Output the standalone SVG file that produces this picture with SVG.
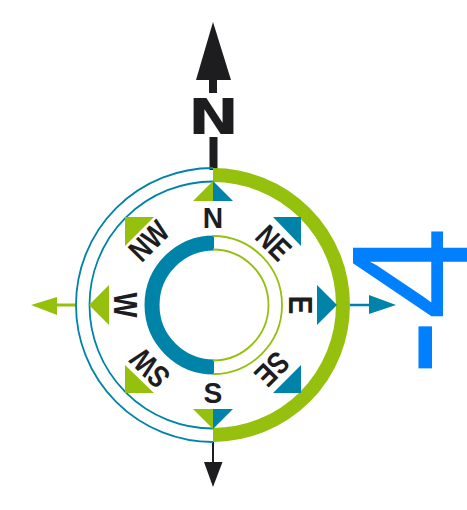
<svg xmlns="http://www.w3.org/2000/svg" width="467" height="510" viewBox="0 0 467 510">
<style>
.k{fill:#1d1d1f}.t{fill:#0083a8}.g{fill:#95c00d}
.lbl{font-family:"Liberation Sans",Arial,sans-serif;font-weight:700;font-size:30px;fill:#1d1d1f;text-anchor:middle}
.d{font-size:31px}
.a{fill:none}
</style>
<rect width="467" height="510" fill="#fff"/>
<g id="connectors">
<rect class="k" x="209" y="78" width="8" height="15"/>
<rect class="k" x="209.500" y="137" width="8" height="33"/>
<path d="M213 442V463" stroke="#1d1d1f" stroke-width="2"/>
<path d="M57 305H76" stroke="#95c00d" stroke-width="3"/>
<path d="M350 305H370" stroke="#0083a8" stroke-width="2.500"/>
<path class="k" d="M213 22L231 80H196Z"/>
<path class="k" d="M204 462H222.500L213 487Z"/>
<path class="g" d="M31 305L57 297V315Z"/>
<path class="t" d="M396 305L369 295V314Z"/>
</g>
<g id="rings" class="a">
<path d="M213 168A137 137 0 0 0 213 442" stroke="#0083a8" stroke-width="1.800"/>
<path d="M213 181.500A123.500 123.500 0 0 0 213 428.500" stroke="#0083a8" stroke-width="1.800"/>
<path d="M213 175A130 130 0 0 1 213 435" stroke="#95c00d" stroke-width="14"/>
<path d="M214 243A62 62 0 0 0 214 367" stroke="#0083a8" stroke-width="15"/>
<path d="M213 236A69 69 0 0 1 213 374" stroke="#95c00d" stroke-width="1.800"/>
<path d="M213 249.500A55.500 55.500 0 0 1 213 360.500" stroke="#95c00d" stroke-width="1.800"/>
</g>
<g id="tri-n"><path class="g" d="M213 181V201H193Z"/><path class="t" d="M213 181V201H233Z"/></g>
<g id="tri-s"><path class="g" d="M213 429V409H193Z"/><path class="t" d="M213 429V409H233Z"/></g>
<g id="tri-e"><path class="t" d="M337 305L317 285V325Z"/></g>
<g id="tri-w"><path class="g" d="M89 305L109 285V325Z"/></g>
<g id="tri-ne"><path class="t" d="M273 217H301V246Z"/></g>
<g id="tri-se"><path class="t" d="M273 393H301V365Z"/></g>
<g id="tri-nw"><path class="g" d="M125 217H154L125 246Z"/></g>
<g id="tri-sw"><path class="g" d="M125 393H154L125 365Z"/></g>
<g id="title-n"><text transform="translate(213.500 134) scale(1.22 1)" style="font-family:'DejaVu Sans',sans-serif;font-weight:700;font-size:50px;fill:#1d1d1f;text-anchor:middle">N</text></g>
<g id="n"><text class="lbl" transform="translate(213 228) scale(.94 1)">N</text></g>
<g id="s"><text class="lbl" transform="translate(213 402.500) scale(.94 1)">S</text></g>
<g id="e"><text class="lbl" transform="translate(289 305) rotate(90) scale(.94 1.12)">E</text></g>
<g id="w"><text class="lbl" transform="translate(114 305) rotate(90) scale(.88 1.12)">W</text></g>
<g id="ne"><text class="lbl d" transform="translate(273.500 243) rotate(45) scale(.82 1)" y="10.500">NE</text></g>
<g id="nw"><text class="lbl d" transform="translate(149 241) rotate(-45) scale(.82 1)" y="10.500">NW</text></g>
<g id="se"><text class="lbl d" transform="translate(272 369) rotate(135) scale(.82 1)" y="10.500">SE</text></g>
<g id="sw"><text class="lbl d" transform="translate(150 368) rotate(-135) scale(.82 1)" y="10.500">SW</text></g>
<g id="blue-label"><text transform="rotate(-90)" style="font-family:'Liberation Sans',Arial,sans-serif;fill:#0080ff"><tspan x="-376" y="471" font-size="172">-</tspan><tspan x="-320" y="469" font-size="168">4</tspan></text></g>
</svg>
